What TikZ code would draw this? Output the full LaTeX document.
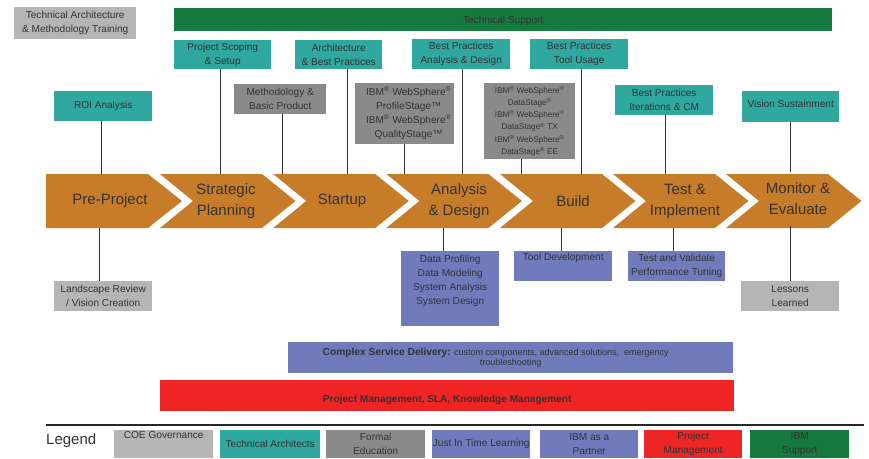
\documentclass[tikz,border=0pt]{standalone}
\usepackage{fontspec}
\setmainfont{Liberation Sans}
\definecolor{cteal}{HTML}{2FA8A0}
\definecolor{cgray}{HTML}{8A8A8A}
\definecolor{clight}{HTML}{B5B5B5}
\definecolor{cblue}{HTML}{6F7BBB}
\definecolor{cred}{HTML}{EE2524}
\definecolor{cgreen}{HTML}{157A3E}
\definecolor{corange}{HTML}{C77C2A}
\definecolor{ctext}{HTML}{333333}
\newcommand{\rg}{\textsuperscript{®}}
\newcommand{\txtdown}[2]{\raisebox{0pt}[\dimexpr\height+2\dimexpr#1\relax\relax]{#2}}
\newcommand{\txtup}[2]{\raisebox{0pt}[\height][\dimexpr\depth+2\dimexpr#1\relax\relax]{#2}}
\begin{document}
\begin{tikzpicture}[x=1pt,y=-1pt,
  bx/.style 2 args={anchor=north west,minimum width=#1pt,minimum height=#2pt,inner sep=0pt,
    align=center,text=ctext,font=\fontsize{10.1}{14}\selectfont},
  teal/.style={fill=cteal},
  gray/.style={fill=cgray},
  light/.style={fill=clight},
  blue/.style={fill=cblue},
  red/.style={fill=cred},
  green/.style={fill=cgreen},
  chevlabel/.style={minimum height=54pt,inner sep=0pt,align=center,text=ctext,font=\fontsize{15}{21}\selectfont},
  chevfill/.style={fill=corange},
  link/.style={draw=ctext,line width=1pt}]
\useasboundingbox (0,0) rectangle (869,458);

% top row
\node[bx={122}{32},light] (train) at (14,7) {Technical Architecture\\\& Methodology Training};
\node[bx={658}{23},green] (support) at (174,8) {\txtdown{1.5pt}{Technical Support}};
\node[bx={97}{29},teal] (scoping) at (174,40) {Project Scoping\\\& Setup};
\node[bx={87}{29},teal] (arch) at (295,40) {Architecture\\\& Best Practices};
\node[bx={98}{30},teal] (bpad) at (412,39) {Best Practices\\Analysis \& Design};
\node[bx={98}{30},teal] (bptool) at (530,39) {Best Practices\\Tool Usage};
\node[bx={92}{30},gray] (method) at (234,84) {Methodology \&\\Basic Product};
\node[bx={99}{61},gray] (profile) at (355,83) {\begin{tabular}{@{\hspace{8pt}}c@{}}IBM\rg{} WebSphere\rg\\ProfileStage™\\IBM\rg{} WebSphere\rg\\QualityStage™\end{tabular}};
\node[bx={91}{76},gray,font=\fontsize{8.2}{12.3}\selectfont] (datastage) at (484,83) {IBM\rg{} WebSphere\rg\\DataStage\rg\\IBM\rg{} WebSphere\rg\\DataStage\rg{} TX\\IBM\rg{} WebSphere\rg\\DataStage\rg{} EE};
\node[bx={98}{30},teal] (bpiter) at (615,85) {Best Practices\\Iterations \& CM};
\node[bx={98}{30},teal] (roi) at (54,91) {ROI Analysis};
\node[bx={97}{31},teal] (vision) at (742,91) {\txtup{3pt}{Vision Sustainment}};

% chevrons
\fill[chevfill] (46,174) -- (148,174) -- (182,201) -- (148,228) -- (46,228) -- cycle;
\foreach \s in {160,273.2,386.4,500,613,726}{
  \fill[chevfill] (\s,174) -- (\s+102,174) -- (\s+135.5,201) -- (\s+102,228) -- (\s,228) -- (\s+33,201) -- cycle;
}
\node[chevlabel] (chev1) at (110,201) {\raisebox{3pt}{Pre-Project}};
\node[chevlabel] (chev2) at (226,201) {Strategic\\Planning};
\node[chevlabel] (chev3) at (342,201) {Startup};
\node[chevlabel] (chev4) at (459,201) {Analysis\\\& Design};
\node[chevlabel] (chev5) at (573,201) {Build};
\node[chevlabel] (chev6) at (685,201) {Test \&\\Implement};
\node[chevlabel] (chev7) at (798,199) {Monitor \&\\Evaluate};

% lower boxes
\node[bx={98}{30},light] (landscape) at (54,281) {Landscape Review\\/ Vision Creation};
\node[bx={98}{75},blue,anchor=north west] (dataprof) at (401,251) {Data Profiling\\Data Modeling\\System Analysis\\System Design\\\strut};
\node[bx={98}{30},blue] (tooldev) at (514,251) {Tool Development\\\strut};
\node[bx={97}{30},blue] (testval) at (628,251) {Test and Validate\\Performance Tuning};
\node[bx={98}{30},light] (lessons) at (741,281) {Lessons\\Learned};
\node[bx={445}{31},blue,font=\fontsize{9.0}{9.5}\selectfont] (complex) at (288,342) {\hspace*{-30pt}{\fontsize{10.2}{9.5}\selectfont\bfseries Complex Service Delivery:} custom components, advanced solutions,\ \ emergency\\troubleshooting};
\node[bx={574}{31},red,font=\bfseries\fontsize{10.1}{12}\selectfont] (pm) at (160,380) {\txtdown{4pt}{Project Management, SLA, Knowledge Management}};

% connectors
\draw[link] (roi.south -| 101,0) -- (chev1.north -| 101,0);
\draw[link] (scoping.south -| 220,0) -- (chev2.north -| 220,0);
\draw[link] (method.south -| 282,0) -- (chev3.north -| 282,0);
\draw[link] (arch.south -| 347,0) -- (chev3.north -| 347,0);
\draw[link] (profile.south -| 404,0) -- (chev4.north -| 404,0);
\draw[link] (bpad.south -| 462,0) -- (chev4.north -| 462,0);
\draw[link] (datastage.south -| 521,0) -- (chev5.north -| 521,0);
\draw[link] (bptool.south -| 581,0) -- (chev5.north -| 581,0);
\draw[link] (bpiter.south -| 665,0) -- (chev6.north -| 665,0);
\draw[link] (vision.south -| 790,0) -- (chev7.north -| 790,0);
\draw[link] (chev1.south -| 99,0) -- (landscape.north -| 99,0);
\draw[link] (chev4.south -| 443,0) -- (dataprof.north -| 443,0);
\draw[link] (chev5.south -| 561,0) -- (tooldev.north -| 561,0);
\draw[link] (chev6.south -| 673,0) -- (testval.north -| 673,0);
\draw[link] (chev7.south -| 790,0) -- (lessons.north -| 790,0);

% legend
\coordinate (ruleL) at (46,425);
\coordinate (ruleR) at (864,425);
\draw[line width=2pt,draw=black!85] (ruleL) -- (ruleR);
\node[anchor=west,inner sep=0pt,text=ctext,font=\fontsize{15}{18}\selectfont] (legend) at (46,441) {Legend};
\node[bx={99}{28},light] (lg1) at (114,430) {COE Governance\\\strut};
\node[bx={100}{28},teal] (lg2) at (220,430) {Technical Architects};
\node[bx={99}{28},gray] (lg3) at (326,430) {Formal\\Education};
\node[bx={98}{28},blue] (lg4) at (432,430) {Just In Time Learning};
\node[bx={98}{28},blue] (lg5) at (540,430) {IBM as a\\Partner};
\node[bx={98}{28},red] (lg6) at (644,430) {Project\\Management};
\node[bx={99}{28},green] (lg7) at (750,430) {IBM\\Support};
\end{tikzpicture}
\end{document}
